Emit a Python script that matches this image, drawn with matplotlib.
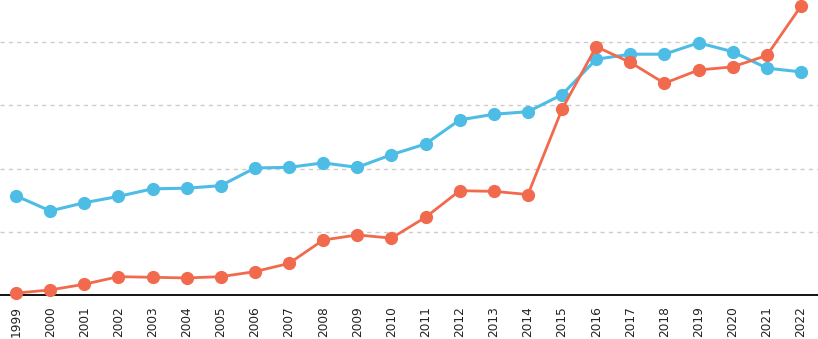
import matplotlib
matplotlib.use("Agg")
import matplotlib.pyplot as plt

years = [str(y) for y in range(1999, 2023)]

blue_values = [1.57, 1.33, 1.46, 1.56, 1.68, 1.69, 1.73, 2.01, 2.02, 2.09, 2.02, 2.22,
               2.39, 2.77, 2.86, 2.90, 3.17, 3.73, 3.81, 3.81, 3.99, 3.85, 3.59, 3.53]
red_values = [0.03, 0.08, 0.17, 0.29, 0.28, 0.27, 0.29, 0.37, 0.50, 0.87, 0.95, 0.90,
              1.23, 1.65, 1.64, 1.59, 2.94, 3.93, 3.68, 3.35, 3.56, 3.61, 3.79, 4.57]

grid_levels = [1, 2, 3, 4]

fig = plt.figure(figsize=(8.18, 3.39), dpi=100)
ax = fig.add_axes([0, 44 / 339, 1, 295 / 339])

x = list(range(len(years)))
ax.plot(x, blue_values, color="#4DBDE6", lw=2.2, marker="o", ms=8.5, clip_on=False, zorder=3)
ax.plot(x, red_values, color="#F26A4D", lw=2, marker="o", ms=8.5, clip_on=False, zorder=4)

for g in grid_levels:
    ax.axhline(g, color="#cccccc", lw=1, ls=(0, (3, 3)), zorder=1)

ax.set_xlim(-0.47, 23.5)
ax.set_ylim(0, 295 / 63.2)
ax.set_xticks(x)
ax.set_xticklabels(years, rotation=90, fontsize=8.7, color="#222222")
ax.tick_params(axis="x", length=0, pad=8)
ax.set_yticks([])

for side in ["top", "right", "left"]:
    ax.spines[side].set_visible(False)
ax.spines["bottom"].set_color("black")
ax.spines["bottom"].set_linewidth(1.3)

fig.savefig("out.png", dpi=100)
